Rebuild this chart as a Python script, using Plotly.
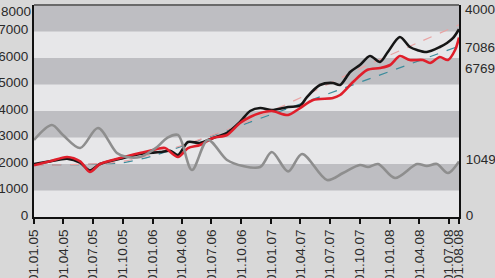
import plotly.graph_objects as go

# ---------------- data ----------------
black_dates = ["2005-01-01","2005-02-19","2005-04-13","2005-05-23","2005-06-22","2005-07-23","2005-09-23",
               "2005-11-23","2006-01-24","2006-02-24","2006-03-20","2006-04-20","2006-05-27","2006-07-06",
               "2006-08-18","2006-09-27","2006-10-28","2006-11-28","2007-01-03","2007-02-22","2007-03-31",
               "2007-04-21","2007-05-31","2007-07-10","2007-08-01","2007-09-01","2007-10-01","2007-11-01",
               "2007-12-02","2007-12-26","2008-02-01","2008-03-03","2008-03-25","2008-04-24","2008-06-03",
               "2008-06-25","2008-07-14","2008-08-01"]
black_vals = [2000,2100,2200,2050,1750,2000,2200,
              2380,2450,2500,2340,2830,2792,2981,
              3170,3585,4000,4113,4038,4151,4200,
              4528,4981,5057,4981,5472,5736,6075,
              5849,6226,6792,6415,6302,6226,6415,
              6566,6755,7086]

red_dates = ["2005-01-01","2005-02-19","2005-04-13","2005-05-23","2005-06-22","2005-07-23","2005-09-23",
             "2005-11-23","2006-01-15","2006-02-08","2006-03-20","2006-04-20","2006-05-27","2006-07-06",
             "2006-08-18","2006-09-27","2006-10-28","2006-11-28","2007-01-03","2007-02-22","2007-03-31",
             "2007-05-10","2007-07-10","2007-08-01","2007-09-10","2007-10-23","2007-12-02","2008-01-02",
             "2008-02-01","2008-03-03","2008-04-12","2008-05-04","2008-06-03","2008-06-28","2008-07-20",
             "2008-08-01"]
red_vals = [1950,2100,2264,2100,1698,2000,2226,
            2415,2566,2604,2264,2600,2717,2981,
            3095,3547,3774,3925,4000,3849,4113,
            4415,4490,4604,5094,5547,5623,5736,
            6075,5925,5925,5811,6038,5925,6302,
            6769]

grey_dates = ["2005-01-01","2005-02-25","2005-03-31","2005-05-23","2005-07-17","2005-09-13","2005-10-14",
              "2005-11-23","2006-01-15","2006-02-14","2006-03-20","2006-05-02","2006-06-20","2006-08-18",
              "2006-10-06","2006-11-28","2007-01-03","2007-02-22","2007-04-06","2007-06-22","2007-08-10",
              "2007-10-01","2007-10-26","2007-11-26","2008-01-17","2008-03-25","2008-04-24","2008-05-25",
              "2008-06-28","2008-08-01"]
grey_vals = [1453,1736,1548,1302,1680,1208,1132,
             1132,1321,1490,1548,887,1453,1076,
             963,943,1226,860,1190,698,830,
             981,943,1000,736,1000,963,1000,
             830,1049]

teal_dates = ["2005-01-01","2005-10-01","2006-01-01","2008-08-01"]
teal_vals = [1950,2050,2300,6450]

pink_dates = ["2005-01-01","2005-10-01","2006-04-01","2006-10-01","2007-04-01","2007-10-01","2008-04-01","2008-08-01"]
pink_vals = [1950,2100,2700,3500,4500,5600,6600,7250]

x_tick_dates = ["2005-01-01","2005-04-01","2005-07-01","2005-10-01","2006-01-01","2006-04-01","2006-07-01",
                "2006-10-01","2007-01-01","2007-04-01","2007-07-01","2007-10-01","2008-01-01","2008-04-01",
                "2008-07-01","2008-08-01"]
x_tick_text = ["01.01.05","01.04.05","01.07.05","01.10.05","01.01.06","01.04.06","01.07.06",
               "01.10.06","01.01.07","01.04.07","01.07.07","01.10.07","01.01.08","01.04.08",
               "01.07.08","01.08.08"]
left_ticks = [0,1000,2000,3000,4000,5000,6000,7000,8000]
right_ticks = [0,1049,4000]
end_labels = ["7086","6769"]
end_label_pos = [0.80,0.70]

FONT = "Liberation Sans Narrow, Liberation Sans, Arial, sans-serif"
FS = 13.5
TXT = "#2a2a2a"

fig = go.Figure()
fig.add_trace(go.Scatter(x=grey_dates, y=grey_vals, yaxis="y2", mode="lines",
                         line=dict(color="#8e8e8e", width=2.6, shape="spline", smoothing=0.9)))
fig.add_trace(go.Scatter(x=teal_dates, y=teal_vals, mode="lines",
                         line=dict(color="#3b8c9c", width=1.2, dash="dash", shape="spline", smoothing=0.6)))
fig.add_trace(go.Scatter(x=pink_dates, y=pink_vals, mode="lines",
                         line=dict(color="#e9a3a3", width=1.2, dash="dash", shape="spline", smoothing=0.8)))
fig.add_trace(go.Scatter(x=black_dates, y=black_vals, mode="lines",
                         line=dict(color="#161616", width=2.6, shape="spline", smoothing=0.8)))
fig.add_trace(go.Scatter(x=red_dates, y=red_vals, mode="lines",
                         line=dict(color="#e01f2b", width=2.6, shape="spline", smoothing=0.8)))

# horizontal bands
shapes = []
for i in range(len(left_ticks) - 1):
    shapes.append(dict(type="rect", xref="paper", yref="y", x0=0, x1=1,
                       y0=left_ticks[i], y1=left_ticks[i + 1], layer="below", line=dict(width=0),
                       fillcolor="#e7e7e9" if i % 2 == 0 else "#bebec2"))
shapes.append(dict(type="line", xref="paper", yref="paper", x0=0, x1=1, y0=1, y1=1,
                   line=dict(color="#6a6a6a", width=2)))

annotations = [dict(text=t, xref="paper", yref="paper", x=1, y=p, xanchor="left", yanchor="middle",
                    xshift=4, showarrow=False, font=dict(family=FONT, size=FS, color=TXT))
               for t, p in zip(end_labels, end_label_pos)]
# top tick labels, nudged down so they stay inside the page
annotations.append(dict(text=str(left_ticks[-1]), xref="paper", yref="y", x=0, y=left_ticks[-1],
                        xanchor="right", yanchor="middle", xshift=-1, yshift=-6, showarrow=False,
                        font=dict(family=FONT, size=FS, color=TXT)))
annotations.append(dict(text=str(right_ticks[-1]), xref="paper", yref="y2", x=1, y=right_ticks[-1],
                        xanchor="left", yanchor="middle", xshift=4, yshift=-4, showarrow=False,
                        font=dict(family=FONT, size=FS, color=TXT)))

fig.update_layout(
    width=495, height=278,
    margin=dict(l=34, r=36, t=5, b=61),
    paper_bgcolor="#d8d8d8", plot_bgcolor="#e7e7e9",
    showlegend=False,
    shapes=shapes, annotations=annotations,
    font=dict(family=FONT, size=FS, color=TXT),
    xaxis=dict(range=["2005-01-01", "2008-08-01"], tickvals=x_tick_dates, ticktext=x_tick_text,
               tickangle=-90, ticks="outside", ticklen=5, tickcolor="#111", tickwidth=1.5,
               showline=True, linecolor="#111", linewidth=2, showgrid=False, zeroline=False,
               automargin=False, ticklabeloverflow="allow",
               tickfont=dict(family=FONT, size=FS, color=TXT)),
    yaxis=dict(range=[0, 8000], tickvals=left_ticks[:-1], showgrid=False, zeroline=False,
               showline=True, linecolor="#111", linewidth=2, ticks="", ticklabelstandoff=1,
               automargin=False, ticklabeloverflow="allow", ticklabelshift=-2,
               tickfont=dict(family=FONT, size=FS, color=TXT)),
    yaxis2=dict(range=[0, 4000], tickvals=right_ticks[:-1], overlaying="y", side="right",
                showgrid=False, zeroline=False, showline=True, linecolor="#111", linewidth=2,
                ticks="", ticklabelstandoff=2, automargin=False, ticklabeloverflow="allow",
                ticklabelshift=-2,
                tickfont=dict(family=FONT, size=FS, color=TXT)),
)

fig.write_html("out.html", config={"displayModeBar": False},
               post_script="document.body.style.margin='0';document.body.style.background='#d8d8d8';")
